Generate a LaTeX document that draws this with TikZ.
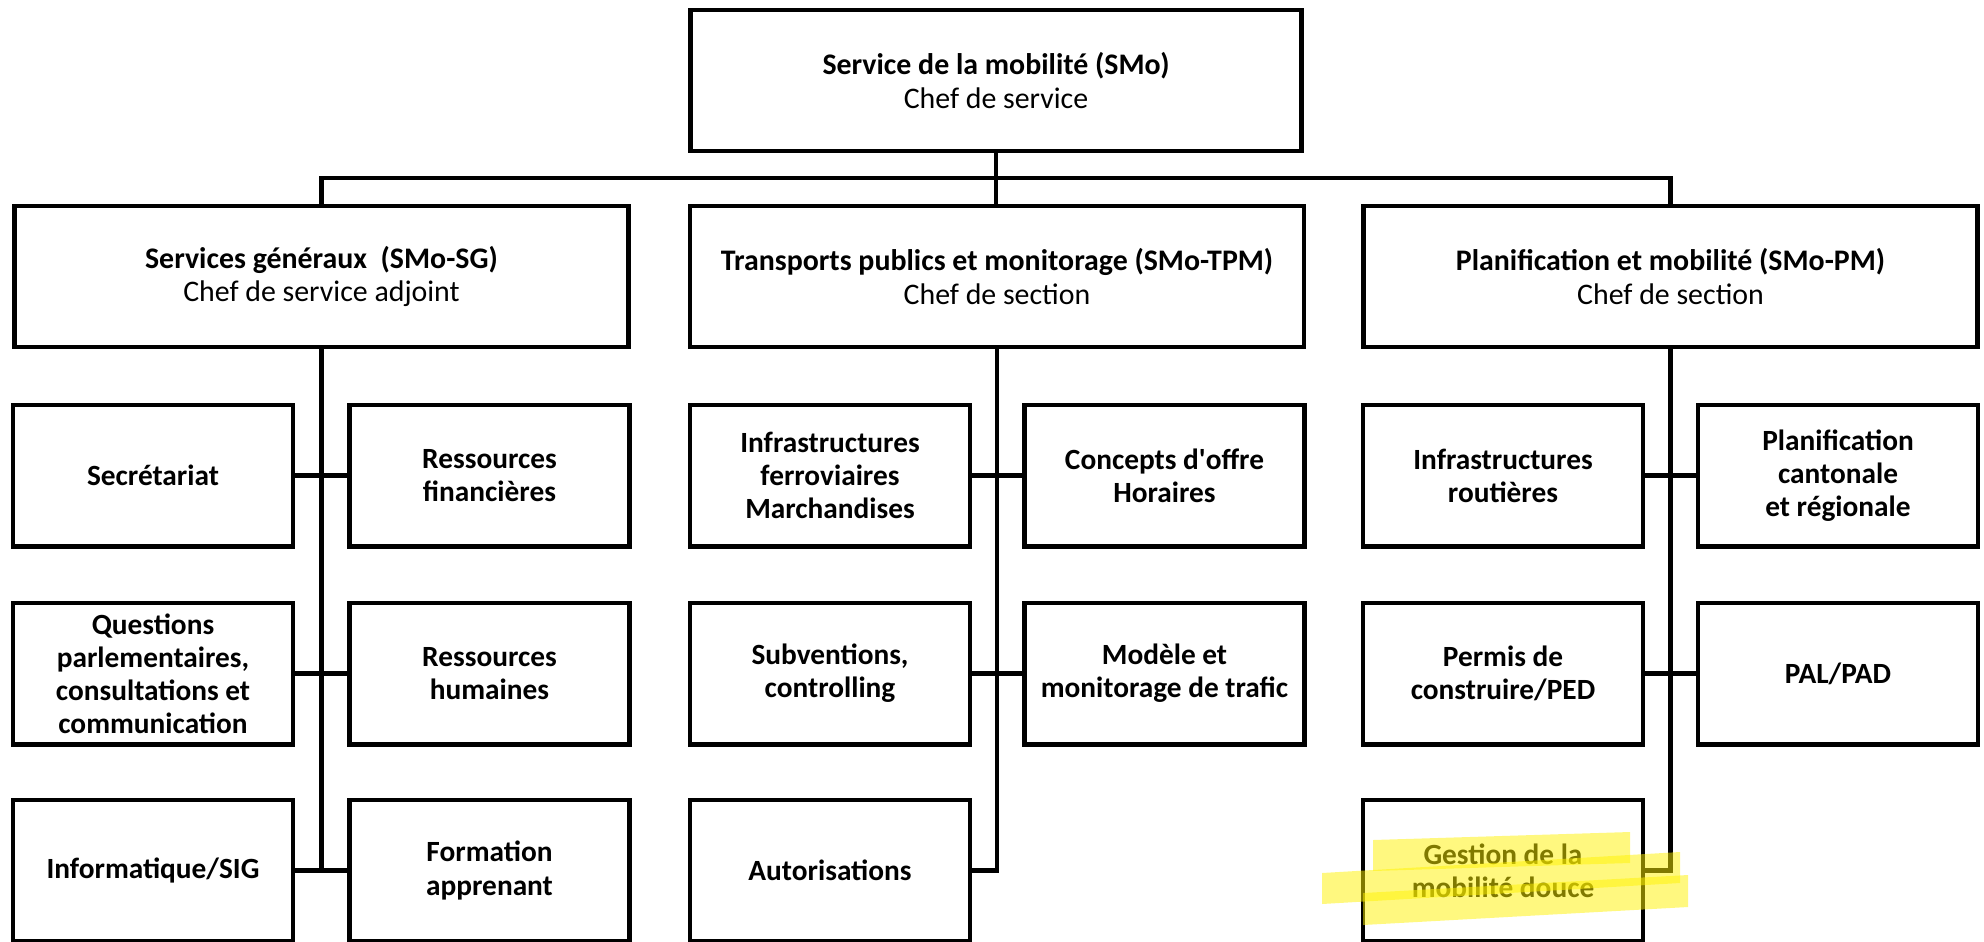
\documentclass[tikz,border=0pt]{standalone}
\usepackage{fontspec}
\setmainfont{Carlito}
\usetikzlibrary{calc}

\begin{document}
\begin{tikzpicture}[x=0.375pt,y=-0.375pt,
  box/.style={draw,line width=1.8pt,align=center,inner sep=0pt,
    minimum height=52.9pt,font=\fontsize{11.2}{12.4}\selectfont},
  headbox/.style={box,minimum width=229pt},
  unitbox/.style={box,minimum width=105pt,font=\fontsize{11}{12.4}\selectfont\bfseries},
  link/.style={line width=1.7pt},
  marker/.style={fill=yellow,fill opacity=0.5}]
\useasboundingbox (0,0) rectangle (1984,941);
% head and sections
\node[headbox] (smo) at (996,80.5) {\textbf{Service de la mobilité (SMo)}\\Chef de service};
\node[headbox,minimum width=230.3pt] (sg) at (321.5,276.5) {\textbf{Services généraux\ \ (SMo-SG)}\\Chef de service adjoint};
\node[headbox,minimum width=230.3pt] (tpm) at (997,276.5) {\textbf{Transports publics et monitorage (SMo-TPM)}\\Chef de section};
\node[headbox,minimum width=230.3pt] (pm) at (1670.5,276.5) {\textbf{Planification et mobilité (SMo-PM)}\\Chef de section};
\coordinate (bus) at (996,178);
\draw[link] (smo.south) -- (bus);
\draw[link] (sg.north) |- (bus) -| (pm.north);
\draw[link] (bus) -- (bus |- tpm.north);
% SMo-SG
\node[unitbox] (secr) at (153,475.6) {Secrétariat};
\node[unitbox] (fin) at (489.5,475.6) {Ressources\\financières};
\node[unitbox] (quest) at (153,673.6) {Questions\\parlementaires,\\consultations et\\communication};
\node[unitbox] (rh) at (489.5,673.6) {Ressources\\humaines};
\node[unitbox] (info) at (153,870.5) {Informatique/SIG};
\node[unitbox] (form) at (489.5,870.5) {Formation\\apprenant};
\draw[link] (sg.south) -- (sg.south |- info.east);
\draw[link] (secr) -- (fin);
\draw[link] (quest) -- (rh);
\draw[link] (info) -- (form);
% SMo-TPM
\node[unitbox] (ferro) at (830,475.6) {Infrastructures\\ferroviaires\\Marchandises};
\node[unitbox] (offre) at (1164.5,475.6) {Concepts d\textquotesingle offre\\Horaires};
\node[unitbox] (subv) at (830,673.6) {Subventions,\\controlling};
\node[unitbox] (trafic) at (1164.5,673.6) {Modèle et\\monitorage de trafic};
\node[unitbox] (autor) at (830,870.5) {Autorisations};
\draw[link] (tpm.south) |- (autor.east);
\draw[link] (ferro) -- (offre);
\draw[link] (subv) -- (trafic);
% SMo-PM
\node[unitbox] (route) at (1503,475.6) {Infrastructures\\routières};
\node[unitbox] (canton) at (1838,475.6) {Planification\\cantonale\\et régionale};
\node[unitbox] (permis) at (1503,673.6) {Permis de\\construire/PED};
\node[unitbox] (pal) at (1838,673.6) {PAL/PAD};
\node[unitbox] (douce) at (1503,870.5) {Gestion de la\\mobilité douce};
\draw[link] (pm.south) |- (douce.east);
\draw[link] (route) -- (canton);
\draw[link] (permis) -- (pal);
% highlighter strokes
\fill[marker] (1373,840) -- (1630,832) -- (1630,863) -- (1373,871) -- cycle;
\fill[marker] (1322,873) -- (1680,852) -- (1680,883) -- (1322,904) -- cycle;
\fill[marker] (1363,893) -- (1688,875) -- (1688,907) -- (1363,925) -- cycle;
\end{tikzpicture}
\end{document}
